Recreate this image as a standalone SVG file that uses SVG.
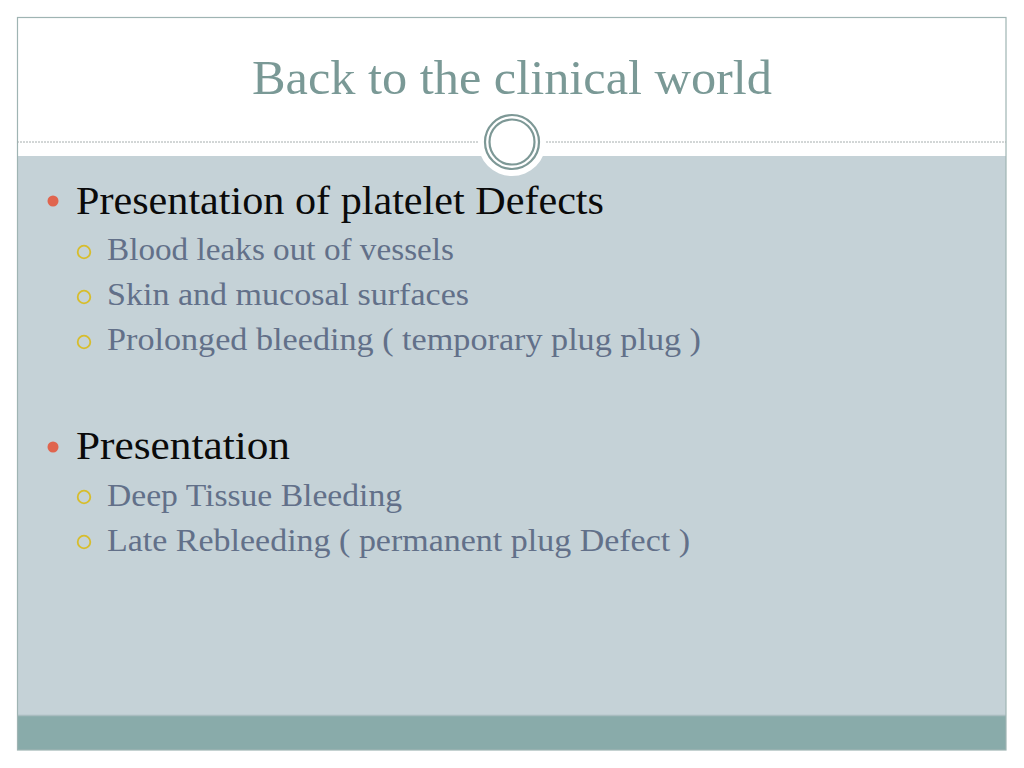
<svg xmlns="http://www.w3.org/2000/svg" width="1024" height="768" viewBox="0 0 1024 768">
<style>
.title{font-family:"Liberation Serif",serif;font-size:48px;fill:#7a9996}
.l1{font-family:"Liberation Serif",serif;font-size:40px;fill:#0a0a0a}
.l2{font-family:"Liberation Serif",serif;font-size:31px;fill:#627089}
.b1{fill:#e0654e}
.b2{fill:none;stroke:#d7bd2c;stroke-width:1.8}
</style>
<rect x="0" y="0" width="1024" height="768" fill="#ffffff"/>
<g id="frame">
<rect x="17" y="156" width="989" height="559" fill="#c5d2d7"/>
<rect x="17" y="715" width="989" height="35" fill="#89abaa"/>
<line x1="17" y1="715.5" x2="1006" y2="715.5" stroke="#a9bcbf" stroke-width="1.5"/>
<rect x="17.5" y="17.5" width="988.5" height="732.5" fill="none" stroke="#9fb4b3" stroke-width="1.2"/>
<line x1="17" y1="142" x2="478" y2="142" stroke="#a6aeae" stroke-width="1" stroke-dasharray="2,1"/>
<line x1="546" y1="142" x2="1006" y2="142" stroke="#a6aeae" stroke-width="1" stroke-dasharray="2,1"/>
<circle cx="512" cy="142" r="34" fill="#ffffff"/>
<circle cx="512" cy="142" r="27" fill="none" stroke="#7d9896" stroke-width="2.2"/>
<circle cx="512" cy="142" r="22.5" fill="none" stroke="#7d9896" stroke-width="2.2"/>
</g>
<g id="title">
<text class="title" x="252" y="94" textLength="520" lengthAdjust="spacingAndGlyphs">Back to the clinical world</text>
</g>
<g id="section1">
<circle class="b1" cx="53" cy="201" r="5.5"/>
<text class="l1" x="76" y="214" textLength="528" lengthAdjust="spacingAndGlyphs">Presentation of platelet Defects</text>
<circle class="b2" cx="84" cy="252" r="6.3"/>
<text class="l2" x="107" y="260" textLength="347" lengthAdjust="spacingAndGlyphs">Blood leaks out of vessels</text>
<circle class="b2" cx="84" cy="297" r="6.3"/>
<text class="l2" x="107" y="305" textLength="362" lengthAdjust="spacingAndGlyphs">Skin and mucosal surfaces</text>
<circle class="b2" cx="84" cy="342" r="6.3"/>
<text class="l2" x="107" y="350" textLength="594" lengthAdjust="spacingAndGlyphs">Prolonged bleeding ( temporary plug plug )</text>
</g>
<g id="section2">
<circle class="b1" cx="53" cy="447" r="5.5"/>
<text class="l1" x="76" y="459" textLength="214" lengthAdjust="spacingAndGlyphs">Presentation</text>
<circle class="b2" cx="84" cy="497" r="6.3"/>
<text class="l2" x="107" y="506" textLength="295" lengthAdjust="spacingAndGlyphs">Deep Tissue Bleeding</text>
<circle class="b2" cx="84" cy="542" r="6.3"/>
<text class="l2" x="107" y="551" textLength="583" lengthAdjust="spacingAndGlyphs">Late Rebleeding ( permanent plug Defect )</text>
</g>
</svg>
